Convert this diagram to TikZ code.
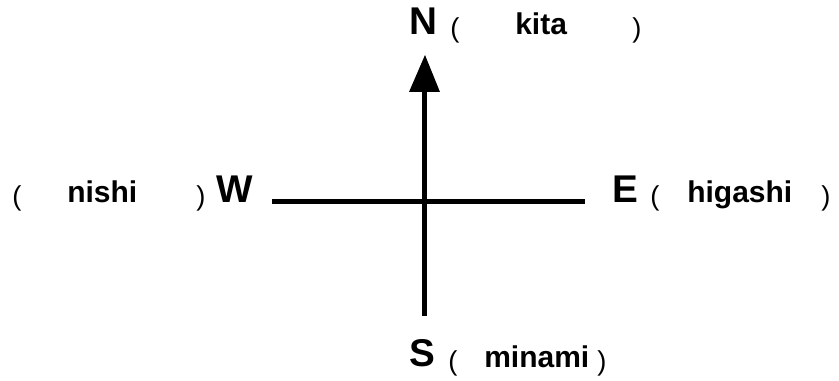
\documentclass[tikz,border=0pt]{standalone}
\usepackage{fontspec}
\setmainfont{Liberation Sans}
\begin{document}
\begin{tikzpicture}[x=0.75pt,y=-0.75pt,
  capletter/.style={anchor=base west,inner sep=0pt,font=\fontsize{29}{31}\selectfont\bfseries},
  wordtext/.style={anchor=base west,inner sep=0pt,font=\fontsize{22.5}{24}\selectfont\bfseries},
  parentext/.style={anchor=base west,inner sep=0pt,font=\fontsize{20.5}{24}\selectfont},
  axisline/.style={line width=4.2pt,black}]
\useasboundingbox (0,0) rectangle (839,381);
% north
\node[capletter] (N) at (409,35) {N};
\node[parentext] (Nl) at (450,38) {(};
\node[wordtext] (Nw) at (515,35) {kita};
\node[parentext] (Nr) at (632,38) {)};
% west
\node[parentext] (Wl) at (12,206) {(};
\node[wordtext] (Ww) at (67,203) {nishi};
\node[parentext] (Wr) at (196,206) {)};
\node[capletter] (W) at (216,203) {W};
% east
\node[capletter] (E) at (612,203) {E};
\node[parentext] (El) at (650,206) {(};
\node[wordtext] (Ew) at (687,203) {higashi};
\node[parentext] (Er) at (821,206) {)};
% south
\node[capletter] (S) at (409,366) {S};
\node[parentext] (Sl) at (448,370) {(};
\node[wordtext] (Sw) at (484,367) {minami};
\node[parentext] (Sr) at (597,370) {)};
% axes
\coordinate (wend) at (272,201.5);
\coordinate (eend) at (585,201.5);
\coordinate (send) at (424.5,316);
\coordinate (nbase) at (424.5,92);
\coordinate (ntip) at (425,55);
\draw[axisline] (wend) -- (eend);
\draw[line width=3.8pt] (send) -- (nbase);
\fill (ntip) -- ([xshift=-15.5*0.75pt]nbase) -- ([xshift=15.5*0.75pt]nbase) -- cycle;
\end{tikzpicture}
\end{document}
